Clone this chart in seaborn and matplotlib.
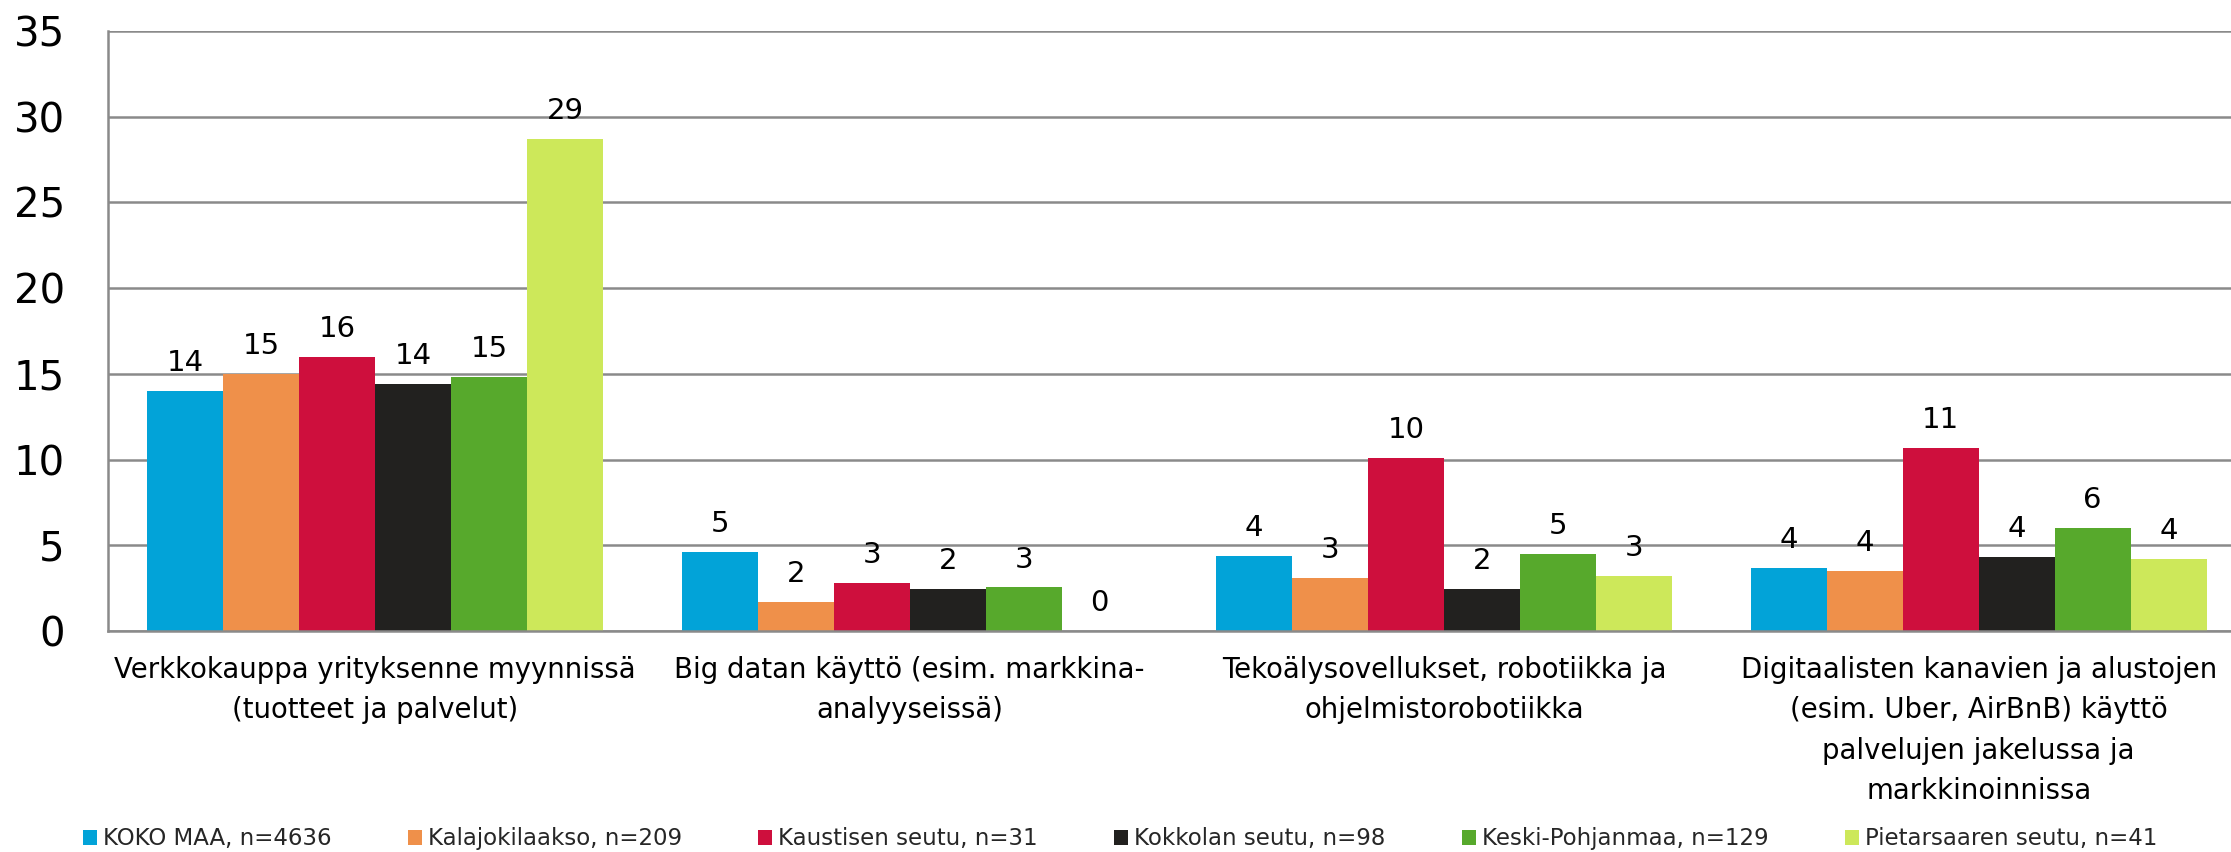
import matplotlib
matplotlib.use("Agg")
import matplotlib.pyplot as plt
import seaborn as sns
import pandas as pd

categories = [
    "Verkkokauppa yrityksenne myynnissä\n(tuotteet ja palvelut)",
    "Big datan käyttö (esim. markkina-\nanalyyseissä)",
    "Tekoälysovellukset, robotiikka ja\nohjelmistorobotiikka",
    "Digitaalisten kanavien ja alustojen\n(esim. Uber, AirBnB) käyttö\npalvelujen jakelussa ja\nmarkkinoinnissa",
]
series = [
    "KOKO MAA, n=4636",
    "Kalajokilaakso, n=209",
    "Kaustisen seutu, n=31",
    "Kokkolan seutu, n=98",
    "Keski-Pohjanmaa, n=129",
    "Pietarsaaren seutu, n=41",
]
koko_maa = [14.0, 4.6, 4.4, 3.7]
kalajokilaakso = [15.0, 1.7, 3.1, 3.52]
kaustinen = [16.0, 2.8, 10.1, 10.7]
kokkola = [14.4, 2.46, 2.46, 4.3]
keski_pohjanmaa = [14.8, 2.54, 4.52, 6.0]
pietarsaari = [28.7, 0.0, 3.2, 4.2]
colors = ["#02A3D8", "#EF904A", "#CE0F3D", "#22211F", "#57A92C", "#CDE85A"]
yticks = [0, 5, 10, 15, 20, 25, 30, 35]

values = [koko_maa, kalajokilaakso, kaustinen, kokkola, keski_pohjanmaa, pietarsaari]
rows = []
for s, vals in zip(series, values):
    for c, v in zip(categories, vals):
        rows.append({"Kategoria": c, "Sarja": s, "Arvo": v})
df = pd.DataFrame(rows)

sns.set_style("white")
plt.rcParams["font.family"] = ["DejaVu Sans"]

W, H = 2231, 852
fig = plt.figure(figsize=(W / 100, H / 100), dpi=100)
ax = fig.add_axes([108 / W, (H - 631) / H, (2246 - 108) / W, 600 / H])

sns.barplot(data=df, x="Kategoria", y="Arvo", hue="Sarja",
            order=categories, hue_order=series, palette=colors,
            width=0.853, gap=0, saturation=1, linewidth=0, ax=ax)

ax.set_xlim(-0.5, 3.5)
ax.set_ylim(0, 35)
ax.set_yticks(yticks)
ax.set_yticklabels([str(t) for t in yticks])
ax.set_xlabel("")
ax.set_ylabel("")
ax.yaxis.grid(True, color="#8A8A8A", linewidth=1.8)
ax.set_axisbelow(True)
for side in ["top", "right"]:
    ax.spines[side].set_visible(False)
for side in ["left", "bottom"]:
    ax.spines[side].set_color("#8A8A8A")
    ax.spines[side].set_linewidth(1.8)
ax.tick_params(axis="y", length=0, pad=31, labelsize=29, labelcolor="black")
ax.tick_params(axis="x", length=0, pad=18, labelsize=19.8, labelcolor="black")
for lbl in ax.get_xticklabels():
    lbl.set_linespacing(1.56)
    lbl.set_horizontalalignment("center")

for cont in ax.containers:
    ax.bar_label(cont, fmt="%.0f", padding=10, fontsize=21, color="black")

handles, labels = ax.get_legend_handles_labels()
if ax.get_legend() is not None:
    ax.get_legend().remove()
fig.legend(handles, labels, loc="center left",
           bbox_to_anchor=(83 / W, 1 - 839 / H), ncol=6, frameon=False,
           fontsize=16.5, handlelength=0.61, handleheight=0.61,
           handletextpad=0.27, columnspacing=3.32, borderpad=0, borderaxespad=0)

fig.savefig("out.png", dpi=100)
